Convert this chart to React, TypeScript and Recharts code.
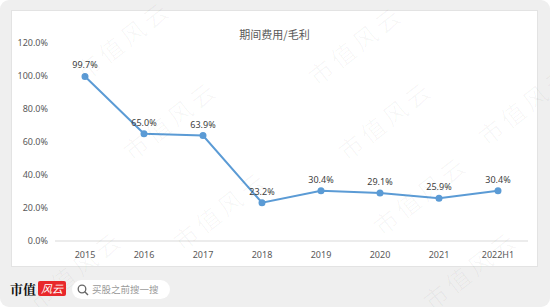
import React from "react";
import { LineChart, Line, XAxis, YAxis, LabelList } from "recharts";

const years = ["2015", "2016", "2017", "2018", "2019", "2020", "2021", "2022H1"];
const ratio = [99.7, 65.0, 63.9, 23.2, 30.4, 29.1, 25.9, 30.4];
const yTicks = [0, 20, 40, 60, 80, 100, 120];

const data = years.map((year, i) => ({ year, ratio: ratio[i] }));

// faint diagonal watermarks
const marks = [
  [68, 60], [115, 140], [300, 65], [330, 140], [470, 125],
  [165, 230], [365, 215], [415, 290], [20, 290],
];

const font = "'Noto Sans', 'Noto Sans CJK SC', sans-serif";

export default function App() {
  return (
    <div
      style={{
        position: "absolute",
        left: 0,
        top: 0,
        width: 550,
        height: 307,
        background: "#ffffff",
        overflow: "hidden",
        fontFamily: font,
      }}
    >
      <div
        style={{
          position: "absolute",
          left: 0,
          top: 0,
          width: 550,
          height: 307,
          background: "#efefef",
          borderRadius: 9,
        }}
      />
      {/* white chart panel */}
      <div
        style={{
          position: "absolute",
          left: 11,
          top: 10,
          width: 525,
          height: 255,
          background: "#ffffff",
          border: "1px solid #e3e3e3",
        }}
      />
      <div
        style={{
          position: "absolute",
          left: 11,
          top: 26,
          width: 527,
          textAlign: "center",
          fontSize: 11,
          color: "#595959",
          fontFamily: "'Noto Sans CJK SC', sans-serif",
        }}
      >
        期间费用/毛利
      </div>
      <div style={{ position: "absolute", left: 11, top: 10 }}>
        <LineChart
          width={527}
          height={257}
          data={data}
          margin={{ top: 33, right: 10, bottom: 0, left: 0 }}
        >
          <XAxis
            dataKey="year"
            height={26}
            padding={{ left: 30, right: 30 }}
            tickLine={false}
            tickSize={0}
            tickMargin={11}
            axisLine={{ stroke: "#d9d9d9" }}
            tick={{ fill: "#595959", fontSize: 9, fontFamily: font }}
          />
          <YAxis
            width={44}
            domain={[0, 120]}
            ticks={yTicks}
            axisLine={false}
            tickLine={false}
            tickSize={0}
            tickMargin={7}
            tickFormatter={(v: number) => `${v.toFixed(1)}%`}
            tick={{ fill: "#595959", fontSize: 9, fontFamily: font }}
          />
          <Line
            dataKey="ratio"
            stroke="#5b9bd5"
            strokeWidth={2}
            dot={{ r: 2.5, fill: "#5b9bd5", stroke: "#5b9bd5" }}
            isAnimationActive={false}
          >
            <LabelList
              dataKey="ratio"
              position="top"
              offset={8}
              formatter={(v: number) => `${v.toFixed(1)}%`}
              style={{ fill: "#404040", fontSize: 9, fontFamily: font }}
            />
          </Line>
        </LineChart>
      </div>
      {marks.map(([x, y], i) => (
        <div
          key={i}
          style={{
            position: "absolute",
            left: x,
            top: y,
            fontSize: 24,
            letterSpacing: 4,
            color: "rgba(0,0,0,0.03)",
            transform: "rotate(-38deg)",
            transformOrigin: "left top",
            whiteSpace: "nowrap",
            pointerEvents: "none",
            fontFamily: "'Noto Sans CJK SC', serif",
          }}
        >
          市值风云
        </div>
      ))}
      {/* footer */}
      <div
        style={{
          position: "absolute",
          left: 10,
          top: 280,
          fontSize: 13,
          fontWeight: 700,
          color: "#111111",
          fontFamily: "'Noto Serif CJK SC', 'Noto Sans CJK SC', serif",
          lineHeight: "17px",
        }}
      >
        市值
      </div>
      <div
        style={{
          position: "absolute",
          left: 38,
          top: 281,
          width: 28,
          height: 15,
          background: "#e8282b",
          color: "#ffffff",
          fontSize: 11,
          fontStyle: "italic",
          lineHeight: "15px",
          textAlign: "center",
          fontFamily: "'Noto Sans CJK SC', sans-serif",
          borderRadius: 2,
        }}
      >
        风云
      </div>
      <div
        style={{
          position: "absolute",
          left: 72,
          top: 280,
          width: 98,
          height: 19,
          background: "#ffffff",
          borderRadius: 10,
        }}
      >
        <svg width={12} height={12} style={{ position: "absolute", left: 5, top: 4 }}>
          <circle cx={5} cy={5} r={3.8} fill="none" stroke="#666" strokeWidth={1.3} />
          <line x1={7.8} y1={7.8} x2={11} y2={11} stroke="#666" strokeWidth={1.4} />
        </svg>
        <div
          style={{
            position: "absolute",
            left: 20,
            top: 3,
            fontSize: 9.5,
            color: "#9a9a9a",
            lineHeight: "13px",
            fontFamily: "'Noto Sans CJK SC', sans-serif",
          }}
        >
          买股之前搜一搜
        </div>
      </div>
    </div>
  );
}
